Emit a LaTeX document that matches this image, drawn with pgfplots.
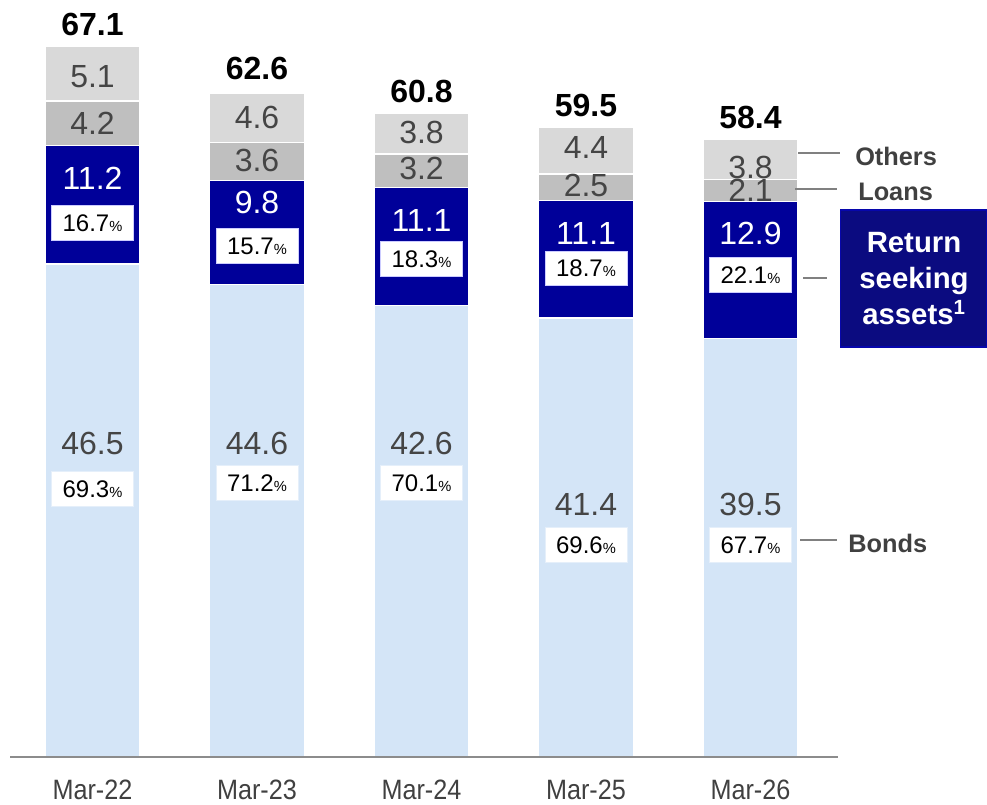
\documentclass[border=0pt]{standalone}
\usepackage{fontspec}
\setmainfont{Liberation Sans}
\newfontfamily\narrowfont[FakeStretch=0.9]{Liberation Sans}
\usepackage{pgfplots}
\pgfplotsset{compat=1.18}

\definecolor{bonds}{HTML}{D4E5F7}
\definecolor{retseek}{HTML}{000099}
\definecolor{loans}{HTML}{BFBFBF}
\definecolor{others}{HTML}{D9D9D9}
\definecolor{valtext}{HTML}{454545}
\definecolor{legtext}{HTML}{404040}
\definecolor{boxnavy}{HTML}{0B0B80}

\newcommand{\pct}{{\fontsize{11}{11}\selectfont\%}}

\tikzset{
    value/.style={text=valtext, font=\fontsize{24}{24}\selectfont},
    total/.style={text=black, font=\bfseries\fontsize{24}{24}\selectfont},
    pctbox/.style={fill=white, draw=#1, line width=0.6pt, minimum width=61.5pt,
        minimum height=26pt, inner sep=0pt, font=\fontsize{18}{18}\selectfont},
    legline/.style={draw=gray, line width=1pt},
    legname/.style={anchor=west, inner sep=0pt, text=legtext,
        font=\bfseries\fontsize{19}{19}\selectfont},
}

\begin{document}
\begin{tikzpicture}
\begin{axis}[
    set layers,
    axis on top,
    x=123.375pt, y=7.95pt,
    xmin=-0.5, xmax=4.532,
    ymin=0, ymax=71.4,
    axis x line=bottom,
    axis y line=none,
    axis line style={-, draw=gray!90, line width=1.5pt},
    ytick=\empty,
    xtick={0,1,2,3,4},
    xticklabels={Mar-22,Mar-23,Mar-24,Mar-25,Mar-26},
    major tick length=0pt,
    xticklabel style={anchor=base, yshift=-32pt, text=legtext,
        font=\narrowfont\fontsize{21}{21}\selectfont},
    ybar stacked,
    bar width=71.25pt,
    clip=false,
    every axis plot/.append style={draw=white, line width=1pt},
]
    % Bonds
    \addplot[fill=bonds] coordinates {(0,46.5) (1,44.6) (2,42.6) (3,41.4) (4,39.5)};
    % Return seeking assets
    \addplot[fill=retseek] coordinates {(0,11.2) (1,9.8) (2,11.1) (3,11.1) (4,12.9)};
    % Loans
    \addplot[fill=loans] coordinates {(0,4.2) (1,3.6) (2,3.2) (3,2.5) (4,2.1)};
    % Others
    \addplot[fill=others] coordinates {(0,5.1) (1,4.6) (2,3.8) (3,4.4) (4,3.8)};

    % label positions (data units)
    \coordinate (T0) at (axis cs:0,69.1);
    \coordinate (T1) at (axis cs:1,65.0);
    \coordinate (T2) at (axis cs:2,62.8);
    \coordinate (T3) at (axis cs:3,61.5);
    \coordinate (T4) at (axis cs:4,60.3);
    \coordinate (O0) at (axis cs:0,64.2);
    \coordinate (O1) at (axis cs:1,60.3);
    \coordinate (O2) at (axis cs:2,58.9);
    \coordinate (O3) at (axis cs:3,57.5);
    \coordinate (O4) at (axis cs:4,55.6);
    \coordinate (L0) at (axis cs:0,59.8);
    \coordinate (L1) at (axis cs:1,56.3);
    \coordinate (L2) at (axis cs:2,55.5);
    \coordinate (L3) at (axis cs:3,53.9);
    \coordinate (L4) at (axis cs:4,53.5);
    \coordinate (R0) at (axis cs:0,54.6);
    \coordinate (R1) at (axis cs:1,52.3);
    \coordinate (R2) at (axis cs:2,50.6);
    \coordinate (R3) at (axis cs:3,49.4);
    \coordinate (R4) at (axis cs:4,49.4);
    \coordinate (RP0) at (axis cs:0,50.4);
    \coordinate (RP1) at (axis cs:1,48.2);
    \coordinate (RP2) at (axis cs:2,47.0);
    \coordinate (RP3) at (axis cs:3,46.1);
    \coordinate (RP4) at (axis cs:4,45.5);
    \coordinate (B0) at (axis cs:0,29.6);
    \coordinate (B1) at (axis cs:1,29.6);
    \coordinate (B2) at (axis cs:2,29.6);
    \coordinate (B3) at (axis cs:3,23.8);
    \coordinate (B4) at (axis cs:4,23.8);
    \coordinate (BP0) at (axis cs:0,25.3);
    \coordinate (BP1) at (axis cs:1,25.85);
    \coordinate (BP2) at (axis cs:2,25.85);
    \coordinate (BP3) at (axis cs:3,20.0);
    \coordinate (BP4) at (axis cs:4,20.0);

    \coordinate (ORG) at (axis cs:-0.56231,71.415);
\end{axis}

% totals
\node[total] at (T0) {67.1};
\node[total] at (T1) {62.6};
\node[total] at (T2) {60.8};
\node[total] at (T3) {59.5};
\node[total] at (T4) {58.4};
% others
\node[value] at (O0) {5.1};
\node[value] at (O1) {4.6};
\node[value] at (O2) {3.8};
\node[value] at (O3) {4.4};
\node[value] at (O4) {3.8};
% loans
\node[value] at (L0) {4.2};
\node[value] at (L1) {3.6};
\node[value] at (L2) {3.2};
\node[value] at (L3) {2.5};
\node[value] at (L4) {2.1};
% return seeking
\node[value, text=white] at (R0) {11.2};
\node[value, text=white] at (R1) {9.8};
\node[value, text=white] at (R2) {11.1};
\node[value, text=white] at (R3) {11.1};
\node[value, text=white] at (R4) {12.9};
\node[pctbox=blue!20] at (RP0) {16.7\pct};
\node[pctbox=blue!20] at (RP1) {15.7\pct};
\node[pctbox=blue!20] at (RP2) {18.3\pct};
\node[pctbox=blue!20] at (RP3) {18.7\pct};
\node[pctbox=blue!20] at (RP4) {22.1\pct};
% bonds
\node[value] at (B0) {46.5};
\node[value] at (B1) {44.6};
\node[value] at (B2) {42.6};
\node[value] at (B3) {41.4};
\node[value] at (B4) {39.5};
\node[pctbox=bonds!60] at (BP0) {69.3\pct};
\node[pctbox=bonds!60] at (BP1) {71.2\pct};
\node[pctbox=bonds!60] at (BP2) {70.1\pct};
\node[pctbox=bonds!60] at (BP3) {69.6\pct};
\node[pctbox=bonds!60] at (BP4) {67.7\pct};

% labels on the right, in pixel units from the top left corner
\begin{scope}[shift={(ORG)}, x=0.75pt, y=-0.75pt]
    \draw[legline] (798,153) -- (840,153);
    \node[legname] at (855,156) {Others};
    \draw[legline] (795,189) -- (837,189);
    \node[legname] at (858,192) {Loans};
    \draw[legline] (803,278) -- (827,278);
    \filldraw[fill=boxnavy, draw=blue!35!boxnavy, line width=1pt] (840.5,210) rectangle (986.5,347);
    \node[text=white, align=center, font=\bfseries\fontsize{22}{27}\selectfont]
        at (914,279) {Return\\seeking\\assets\textsuperscript{1}};
    \draw[legline] (800,540) -- (837,540);
    \node[legname] at (848,543) {Bonds};
\end{scope}

\pgfresetboundingbox
\path (ORG) rectangle ++(740.25pt,-603pt);
\end{tikzpicture}
\end{document}
